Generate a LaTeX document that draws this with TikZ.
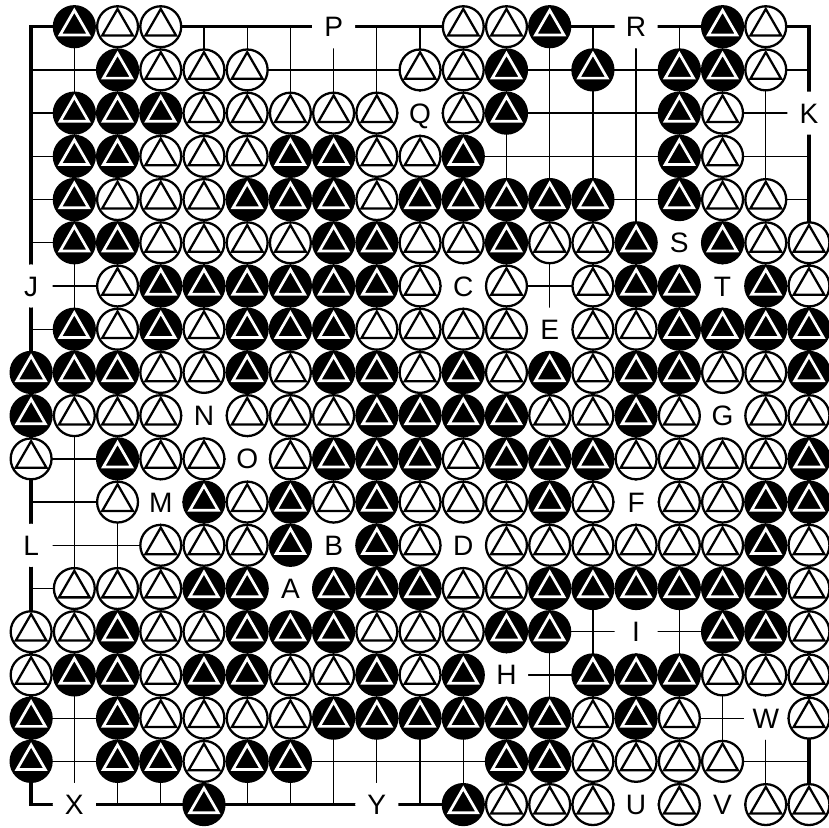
\documentclass[tikz,border=0pt]{standalone}
\usepackage{fontspec}
\setmainfont{Liberation Sans}
\usepackage{tikz}

\begin{document}
\begin{tikzpicture}[
    every node/.style={font=\fontsize{18.5}{18.5}\selectfont},
    gridline/.style={line width=0.85pt},
    edgeline/.style={line width=2.2pt},
    boardlabel/.style={circle, fill=white, minimum size=1cm, inner sep=0pt, text height=13.2pt, text depth=0pt},
    bstone/.pic={
        \fill (0,0) circle (0.5);
        \draw[white, line width=1.8pt] (90:0.38) -- (210:0.38) -- (330:0.38) -- cycle;
    },
    wstone/.pic={
        \draw[fill=white, line width=1.5pt] (0,0) circle (0.473);
        \draw[line width=1.5pt] (90:0.41) -- (210:0.41) -- (330:0.41) -- cycle;
    }
]
    \useasboundingbox (-0.72,0.618) rectangle (18.463,-18.54);

    % board lines
    \foreach \i in {1,...,17} {
        \draw[gridline] (\i,0) -- (\i,-18);
        \draw[gridline] (0,-\i) -- (18,-\i);
    }
    \draw[edgeline] (0,0) rectangle (18,-18);

    % letters on empty points
    \foreach \t/\c/\r in {A/6/13, B/7/12, C/10/6, D/10/12, E/12/7, F/14/11, G/16/9,
        H/11/15, I/14/14, J/0/6, K/18/2, L/0/12, M/3/11, N/4/9, O/5/10, P/7/0,
        Q/9/2, R/14/0, S/15/5, T/16/6, U/14/18, V/16/18, W/17/16, X/1/18, Y/8/18}
        \node[boardlabel] (lbl\t) at (\c,-\r) {\t};

    % black stones, row by row
    \foreach \r/\cols in {0/{1,12,16}, 1/{2,11,13,15,16}, 2/{1,2,3,11,15},
        3/{1,2,6,7,10,15}, 4/{1,5,6,7,9,10,11,12,13,15}, 5/{1,2,7,8,11,14,16},
        6/{3,4,5,6,7,8,14,15,17}, 7/{1,3,5,6,7,15,16,17,18},
        8/{0,1,2,5,7,8,10,12,14,15,18}, 9/{0,8,9,10,11,14},
        10/{2,7,8,9,11,12,13,18}, 11/{4,6,8,12,17,18}, 12/{6,8,17},
        13/{4,5,7,8,9,12,13,14,15,16,17}, 14/{2,5,6,7,11,12,16,17},
        15/{1,2,4,5,8,10,13,14,15}, 16/{0,2,7,8,9,10,11,12,14},
        17/{0,2,3,5,6,11,12}, 18/{4,10}}
        \foreach \c in \cols \pic at (\c,-\r) {bstone};

    % white stones, row by row
    \foreach \r/\cols in {0/{2,3,10,11,17}, 1/{3,4,5,9,10,17}, 2/{4,5,6,7,8,10,16},
        3/{3,4,5,8,9,16}, 4/{2,3,4,8,16,17}, 5/{3,4,5,6,9,10,12,13,17,18},
        6/{2,9,11,13,18}, 7/{2,4,8,9,10,11,13,14}, 8/{3,4,6,9,11,13,16,17},
        9/{1,2,3,5,6,7,12,13,15,17,18}, 10/{0,3,4,6,10,14,15,16,17},
        11/{2,5,7,9,10,11,13,15,16}, 12/{3,4,5,9,11,12,13,14,15,16,18},
        13/{1,2,3,10,11,18}, 14/{0,1,3,4,8,9,10,18}, 15/{0,3,6,7,9,16,17,18},
        16/{3,4,5,6,13,15,18}, 17/{4,13,14,15,16}, 18/{11,12,13,15,17,18}}
        \foreach \c in \cols \pic at (\c,-\r) {wstone};
\end{tikzpicture}
\end{document}
